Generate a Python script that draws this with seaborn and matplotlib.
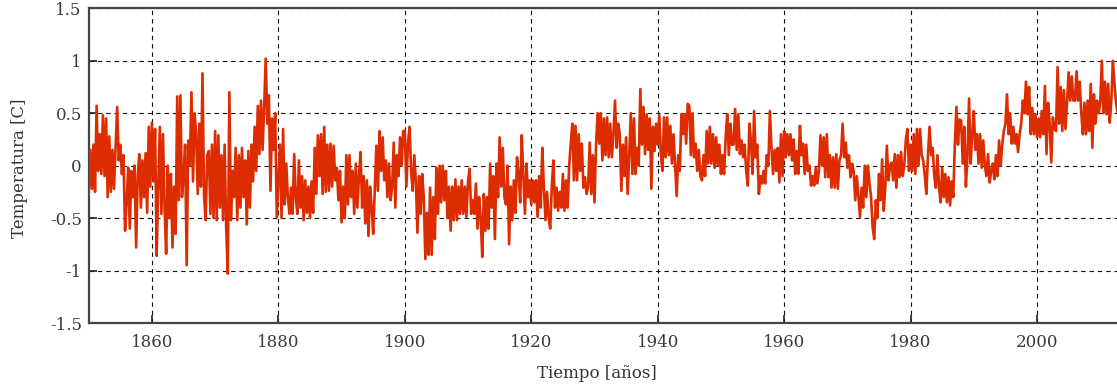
import numpy as np
import pandas as pd
import matplotlib
matplotlib.use("Agg")
import matplotlib.pyplot as plt
import seaborn as sns

# Quarterly temperature anomaly readings (°C)
start_year = 1850
samples_per_year = 4

anom_1850_1899 = [
    -0.28, 0.15, -0.22, 0.2,   -0.25, 0.57, -0.05, 0.3,   -0.08, 0.48, -0.1, 0.45,
    -0.3, 0.28, -0.25, 0.15,   -0.22, 0.17, 0.56, 0.05,   0.2, -0.08, 0.1, -0.62,
    -0.35, -0.02, -0.6, -0.05, -0.3, 0.0, -0.78, -0.1,    0.11, -0.4, 0.05, -0.3,
    0.12, -0.45, 0.37, -0.2,
    0.41, -0.15, 0.35, -0.86,  -0.2, 0.37, -0.46, 0.3,   -0.4, -0.84, 0.0, -0.5,
    -0.08, -0.78, -0.2, -0.65, 0.66, -0.33, 0.67, -0.3,  -0.1, 0.2, -0.95, 0.24,
    0.0, 0.7, -0.15, 0.5,      0.3, -0.27, 0.4, -0.2,    0.88, -0.3, -0.52, 0.1,
    0.14, -0.46, 0.2, -0.5,
    0.33, -0.52, 0.29, -0.4,   0.1, -0.52, 0.2, -0.6,    -1.03, 0.7, -0.52, -0.05,
    -0.3, 0.17, -0.52, 0.1,    -0.4, 0.17, -0.3, 0.05,   -0.56, 0.14, -0.4, 0.2,
    -0.15, 0.37, -0.05, 0.57,  0.11, 0.62, 0.15, 0.55,   1.02, 0.4, 0.67, -0.24,
    0.45, 0.15, 0.5, -0.49,
    -0.14, 0.2, -0.5, 0.35,    -0.37, 0.02, -0.3, -0.46, -0.21, -0.46, 0.11, -0.3,
    -0.46, 0.05, -0.4, -0.1,   -0.52, -0.14, -0.45, -0.2, -0.5, -0.15, -0.45, 0.17,
    -0.27, 0.29, -0.1, 0.3,    -0.27, 0.37, -0.25, 0.2,  -0.24, 0.21, -0.2, 0.19,
    -0.14, -0.02, -0.33, -0.05,
    -0.54, -0.2, -0.5, 0.1,    -0.37, 0.1, -0.3, -0.05,  -0.46, 0.02, -0.4, -0.1,
    0.13, -0.4, -0.1, -0.55,   -0.14, -0.67, -0.2, -0.4, -0.65, -0.24, 0.19, -0.24,
    0.33, -0.05, 0.27, -0.14,  0.05, -0.3, 0.02, -0.33,  -0.2, 0.22, -0.4, 0.1,
    -0.1, 0.27, 0.0, 0.33,
]

anom_1900_1949 = [
    0.33, -0.2, 0.21, 0.37,    -0.05, -0.24, 0.1, -0.15, -0.64, -0.1, -0.46, -0.08,
    -0.3, -0.89, -0.45, -0.85, -0.21, -0.85, -0.3, -0.7, -0.02, -0.46, 0.0, -0.35,
    0.0, -0.33, -0.05, -0.5,   -0.2, -0.62, -0.2, -0.52, -0.13, -0.52, -0.2, -0.46,
    -0.14, -0.46, -0.2, -0.49,
    -0.15, -0.03, -0.46, -0.33, -0.46, -0.17, -0.6, -0.3, -0.5, -0.87, -0.27, -0.62,
    -0.3, -0.6, 0.02, -0.4,    -0.1, -0.7, 0.02, -0.3,   0.27, -0.2, 0.17, -0.3,
    -0.37, 0.0, -0.75, -0.2,   -0.52, -0.14, -0.45, 0.08, -0.08, -0.35, 0.29, -0.1,
    -0.46, 0.02, -0.3, -0.14,
    -0.37, -0.14, -0.35, -0.14, -0.49, -0.1, -0.4, 0.17, -0.21, -0.52, -0.25, -0.5,
    -0.6, -0.2, 0.05, -0.4,    -0.21, -0.43, -0.25, -0.4, -0.08, -0.43, -0.14, -0.4,
    0.0, 0.21, 0.40, -0.14,    0.38, -0.14, 0.3, -0.05,  0.21, -0.21, -0.11, -0.27,
    -0.2, 0.22, -0.27, 0.1,
    -0.35, 0.2, 0.5, 0.21,     0.5, 0.05, 0.45, 0.1,     0.46, 0.08, 0.4, 0.08,
    0.3, 0.62, 0.17, 0.4,      0.3, -0.24, 0.2, -0.1,    0.27, -0.27, 0.1, 0.5,
    -0.08, 0.45, -0.08, 0.17,  0.0, 0.73, 0.2, 0.56,     0.11, 0.49, 0.15, 0.45,
    -0.22, 0.37, 0.14, 0.40,
    0.2, 0.48, 0.11, -0.05,    0.46, 0.08, 0.46, 0.1,    0.38, 0.02, 0.3, 0.0,
    -0.29, 0.1, -0.05, 0.49,   0.3, 0.49, 0.21, 0.59,    0.57, 0.1, 0.5, 0.08,
    0.21, -0.05, 0.15, -0.1,   -0.14, 0.1, -0.1, 0.33,   0.02, 0.37, 0.02, 0.3,
    -0.02, 0.27, 0.0, 0.2,
]

anom_1950_2012 = [
    -0.08, 0.1, -0.08, 0.27,   0.49, 0.1, 0.4, 0.2,      0.2, 0.54, 0.15, 0.49,
    0.11, 0.24, 0.08, 0.2,     -0.05, -0.19, 0.4, 0.24,  -0.08, 0.52, 0.08, 0.2,
    -0.27, -0.1, -0.17, -0.05, -0.17, 0.1, 0.0, 0.52,    0.17, -0.08, 0.15, -0.05,
    0.17, -0.16, 0.3, -0.1,
    0.33, 0.08, 0.3, 0.1,      0.3, 0.05, 0.25, -0.08,   0.14, -0.08, 0.38, 0.1,
    0.21, -0.08, 0.2, -0.05,   0.0, -0.19, -0.1, -0.19,  -0.02, -0.17, -0.05, 0.29,
    0.0, 0.27, -0.11, 0.3,     -0.11, 0.1, -0.21, 0.08,  -0.21, 0.11, -0.22, 0.05,
    0.1, 0.40, 0.08, 0.22,
    -0.02, 0.1, -0.11, 0.02,   -0.06, -0.33, -0.1, -0.3, -0.49, -0.21, -0.4, 0.0,
    -0.3, 0.0, -0.17, -0.3,    -0.59, -0.7, -0.33, -0.5, -0.08, -0.33, 0.06, -0.43,
    -0.2, 0.19, -0.14, 0.0,    0.03, -0.14, 0.11, -0.21, 0.1, -0.11, 0.13, -0.1,
    0.0, 0.25, 0.35, -0.05,
    0.2, -0.05, 0.3, -0.08,    0.35, 0.0, 0.35, 0.1,     0.05, -0.1, -0.27, 0.1,
    0.37, 0.1, 0.17, -0.1,     -0.21, 0.1, -0.2, -0.35,  -0.02, -0.3, -0.08, -0.35,
    -0.11, -0.38, -0.15, -0.3, 0.2, 0.56, 0.2, 0.44,     0.43, 0.02, 0.37, -0.2,
    0.1, 0.64, 0.02, 0.3,
    0.52, 0.15, 0.3, 0.02,     0.3, -0.02, 0.24, 0.0,    -0.1, 0.11, -0.16, -0.05,
    0.02, -0.13, 0.1, -0.1,    0.24, 0.0, 0.2, 0.33,     0.4, 0.68, 0.3, 0.5,
    0.21, 0.37, 0.21, 0.3,     0.13, 0.3, 0.4, 0.62,     0.5, 0.8, 0.49, 0.75,
    0.3, 0.55, 0.3, 0.49,
    0.27, 0.45, 0.27, 0.52,    0.3, 0.76, 0.11, 0.6,     0.4, 0.03, 0.46, 0.35,
    0.33, 0.94, 0.4, 0.75,     0.33, 0.72, 0.35, 0.6,    0.89, 0.62, 0.85, 0.62,
    0.62, 0.9, 0.62, 0.8,      0.5, 0.3, 0.6, 0.3,       0.62, 0.33, 0.78, 0.17,
    0.68, 0.4, 0.62, 0.5,
    0.6, 1.0, 0.5, 0.8,        0.49, 0.78, 0.41, 0.62,   1.0, 0.78, 0.6, 0.5,
]

x_ticks = [1860, 1880, 1900, 1920, 1940, 1960, 1980, 2000]
y_ticks = [-1.5, -1.0, -0.5, 0.0, 0.5, 1.0, 1.5]
y_tick_labels = ["-1.5", "-1", "-0.5", "0", "0.5", "1", "1.5"]
x_label = "Tiempo [años]"
y_label = "Temperatura [C]"

values = anom_1850_1899 + anom_1900_1949 + anom_1950_2012
time = start_year + np.arange(len(values)) / samples_per_year
df = pd.DataFrame({"Tiempo": time, "Temperatura": values})

sns.set_theme(style="white")
plt.rcParams["font.family"] = ["DejaVu Serif"]

fig = plt.figure(figsize=(11.17, 3.87), dpi=100)
ax = fig.add_axes([88.7 / 1117, (387 - 323) / 387, (1117 - 88.7) / 1117, (323 - 8.3) / 387])

ax.grid(True, color="#111111", linestyle=(0, (4, 3.5)), linewidth=0.8)
ax.set_axisbelow(True)

sns.lineplot(data=df, x="Tiempo", y="Temperatura", color="#dc2c00",
             linewidth=1.9, estimator=None, ax=ax, zorder=3)

ax.set_xlim(1850, 2012.65)
ax.set_ylim(-1.5, 1.5)
ax.set_xticks(x_ticks)
ax.set_xticklabels([str(t) for t in x_ticks])
ax.set_yticks(y_ticks)
ax.set_yticklabels(y_tick_labels)

for side in ["left", "top", "bottom"]:
    ax.spines[side].set_color("#444444")
    ax.spines[side].set_linewidth(1.6)
ax.spines["right"].set_visible(False)

ax.tick_params(axis="both", direction="in", length=6, width=1.2, color="#222222",
               labelsize=12, labelcolor="#3a3a3a")
ax.tick_params(axis="x", pad=8, bottom=True, top=False)
ax.tick_params(axis="y", pad=5, left=True, right=False)

ax.set_xlabel(x_label, fontsize=12, color="#333333")
ax.set_ylabel(y_label, fontsize=12, color="#333333")
ax.xaxis.label.set_va("center")
ax.yaxis.label.set_va("center")
ax.xaxis.set_label_coords((597 - 88.7) / (1117 - 88.7), -(373 - 323) / (323 - 8.3))
ax.yaxis.set_label_coords((20 - 88.7) / (1117 - 88.7), (323 - 168) / (323 - 8.3))

fig.savefig("out.png", dpi=100)
